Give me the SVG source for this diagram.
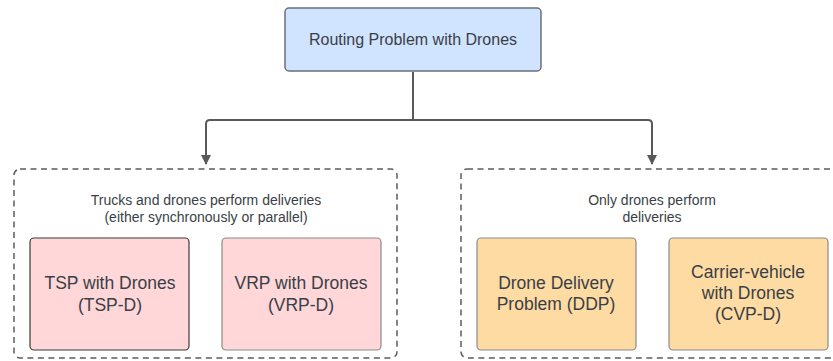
<svg xmlns="http://www.w3.org/2000/svg" width="833" height="361" viewBox="0 0 833 361">
<style>
text{font-family:"Liberation Sans",Arial,sans-serif;fill:#3a3f47;text-anchor:middle}
.grp{fill:none;stroke:#5c5c5c;stroke-width:1.5;stroke-dasharray:6 4.5}
.box{stroke-width:1.2}
.pink{fill:#ffd7d8;stroke:#8a8a8a}
.org{fill:#fddba3;stroke:#8a8a8a}
.t17{font-size:17.5px}
.t14{font-size:14px}
.conn{fill:none;stroke:#595959;stroke-width:2}
</style>
<defs>
<marker id="arr" viewBox="0 0 10 10" refX="9" refY="5" markerWidth="10" markerHeight="10" markerUnits="userSpaceOnUse" orient="auto">
<path d="M0,0 L10,5 L0,10 Z" fill="#595959"/>
</marker>
</defs>
<rect width="833" height="361" fill="#ffffff"/>
<g id="connectors">
<path class="conn" d="M413,72 V120 H210 Q206,120 206,124 V164" marker-end="url(#arr)"/>
<path class="conn" d="M413,120 H648 Q652,120 652,124 V164" marker-end="url(#arr)"/>
</g>
<g id="root">
<rect x="285" y="8" width="256" height="63" rx="4" fill="#d0e3ff" stroke="#6a7078" stroke-width="1.5"/>
<text class="t17" x="413" y="45" style="font-size:16px">Routing Problem with Drones</text>
</g>
<g id="group-trucks">
<rect class="grp" x="14" y="169" width="383" height="189" rx="6"/>
<text class="t14" x="206" y="205">Trucks and drones perform deliveries</text>
<text class="t14" x="206" y="222">(either synchronously or parallel)</text>
</g>
<g id="tspd">
<rect class="box pink" x="30" y="238" width="159" height="112" rx="4" style="stroke:#3a3a3a"/>
<text class="t17" x="110" y="289">TSP with Drones</text>
<text class="t17" x="110" y="311">(TSP-D)</text>
</g>
<g id="vrpd">
<rect class="box pink" x="222" y="238" width="159" height="112" rx="4"/>
<text class="t17" x="301" y="289">VRP with Drones</text>
<text class="t17" x="301" y="311">(VRP-D)</text>
</g>
<g id="group-drones">
<rect class="grp" x="461" y="169" width="385" height="189" rx="6"/>
<text class="t14" x="652" y="205">Only drones perform</text>
<text class="t14" x="652" y="222">deliveries</text>
</g>
<g id="ddp">
<rect class="box org" x="477" y="238" width="159" height="112" rx="4"/>
<text class="t17" x="556" y="289">Drone Delivery</text>
<text class="t17" x="556" y="310">Problem (DDP)</text>
</g>
<g id="cvpd">
<rect class="box org" x="669" y="238" width="159" height="112" rx="4"/>
<text class="t17" x="748" y="278">Carrier-vehicle</text>
<text class="t17" x="748" y="299">with Drones</text>
<text class="t17" x="748" y="320">(CVP-D)</text>
</g>
</svg>
